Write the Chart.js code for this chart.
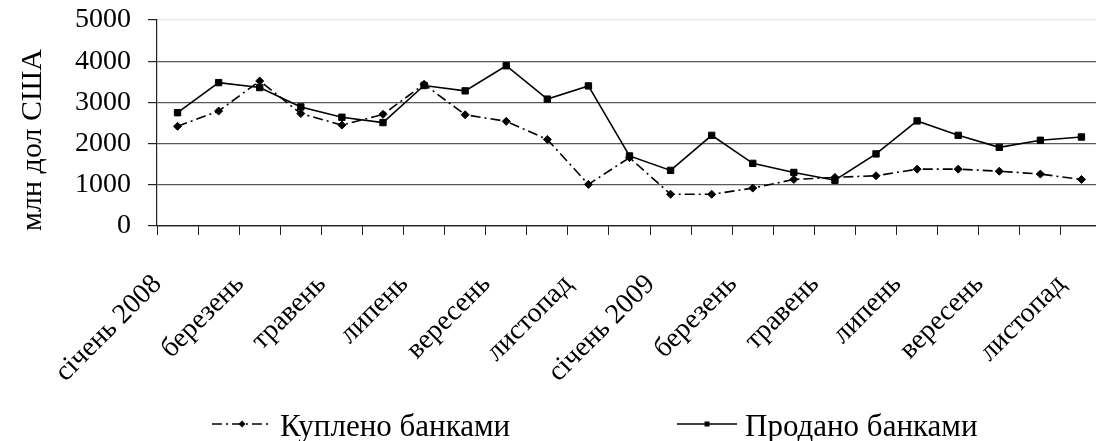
<!DOCTYPE html>
<html lang="uk">
<head>
<meta charset="utf-8">
<title>Купівля та продаж валюти банками</title>
<script src="https://cdn.jsdelivr.net/npm/chart.js@4.4.1/dist/chart.umd.min.js"></script>
<style>
  html, body { margin: 0; padding: 0; background: #fff; overflow: hidden; }
  #wrap { width: 1110px; height: 441px; }
  canvas { display: block; }
</style>
</head>
<body>
<div id="wrap"><canvas id="chart" width="1110" height="441" style="width:1110px;height:441px"></canvas></div>
<script>
// Місяці 2008–2009 рр.
const months = ['січень 2008', 'лютий', 'березень', 'квітень', 'травень', 'червень',
  'липень', 'серпень', 'вересень', 'жовтень', 'листопад', 'грудень',
  'січень 2009', 'лютий', 'березень', 'квітень', 'травень', 'червень',
  'липень', 'серпень', 'вересень', 'жовтень', 'листопад'];

// Куплено банками, млн дол США
const bought = [2420, 2790, 3520, 2730, 2450, 2710, 3440, 2700, 2540, 2100, 1010, 1660,
  770, 770, 920, 1130, 1180, 1220, 1380, 1380, 1330, 1260, 1130];

// Продано банками, млн дол США
const sold = [2750, 3480, 3360, 2890, 2640, 2510, 3410, 3280, 3890, 3080, 3400, 1700,
  1350, 2200, 1520, 1300, 1110, 1750, 2550, 2200, 1910, 2080, 2160];

const yTicks = [0, 1000, 2000, 3000, 4000, 5000];
const seriesNames = ['Куплено банками', 'Продано банками'];
const axisTitle = 'млн дол США';

const SERIF = "'Liberation Serif', 'Times New Roman', serif";

// Підпис осі та легенда під графіком
const decorations = {
  id: 'decorations',
  afterDraw(chart) {
    const ctx = chart.ctx;
    ctx.save();
    ctx.fillStyle = '#000';
    ctx.font = '30px ' + SERIF;
    ctx.textAlign = 'center';
    ctx.textBaseline = 'middle';
    ctx.translate(31, 140);
    ctx.rotate(-Math.PI / 2);
    ctx.fillText(axisTitle, 0, 2);
    ctx.restore();

    const starts = [212, 677];
    const lineY = 424;
    chart.data.datasets.forEach((ds, i) => {
      const x0 = starts[i];
      ctx.save();
      ctx.strokeStyle = ds.borderColor;
      ctx.lineWidth = ds.borderWidth;
      ctx.setLineDash(ds.borderDash || []);
      ctx.beginPath();
      ctx.moveTo(x0, lineY);
      ctx.lineTo(x0 + 60, lineY);
      ctx.stroke();
      ctx.setLineDash([]);
      ctx.fillStyle = '#000';
      const cx = x0 + 30;
      ctx.beginPath();
      if (ds.pointStyle === 'rectRot') {
        ctx.moveTo(cx - 3.5, lineY);
        ctx.lineTo(cx, lineY - 3.5);
        ctx.lineTo(cx + 3.5, lineY);
        ctx.lineTo(cx, lineY + 3.5);
        ctx.closePath();
      } else {
        ctx.rect(cx - 2.5, lineY - 2.5, 5, 5);
      }
      ctx.fill();
      ctx.font = '31px ' + SERIF;
      ctx.textAlign = 'left';
      ctx.textBaseline = 'alphabetic';
      ctx.fillText(ds.label, x0 + 68, 436);
      ctx.restore();
    });
  }
};

new Chart(document.getElementById('chart'), {
  type: 'line',
  data: {
    labels: months,
    datasets: [
      {
        label: seriesNames[0],
        data: bought,
        borderColor: '#000',
        backgroundColor: '#000',
        borderWidth: 1.6,
        borderDash: [10, 4, 2, 4],
        pointStyle: 'rectRot',
        pointRadius: 4,
        pointBorderWidth: 1,
        pointBackgroundColor: '#000',
        pointBorderColor: '#000',
        tension: 0,
        fill: false
      },
      {
        label: seriesNames[1],
        data: sold,
        borderColor: '#000',
        backgroundColor: '#000',
        borderWidth: 1.6,
        pointStyle: 'rect',
        pointRadius: 4.5,
        pointBorderWidth: 1,
        pointBackgroundColor: '#000',
        pointBorderColor: '#000',
        tension: 0,
        fill: false
      }
    ]
  },
  options: {
    responsive: false,
    devicePixelRatio: 1,
    animation: false,
    layout: { padding: { top: 20, right: 8, left: 0, bottom: 0 } },
    plugins: {
      legend: { display: false },
      tooltip: { enabled: false }
    },
    scales: {
      x: {
        type: 'category',
        offset: true,
        afterFit(scale) {
          scale.height = 215;
          scale.paddingLeft = 0;
          scale.paddingRight = 0;
        },
        grid: {
          display: true,
          offset: true,
          drawOnChartArea: false,
          drawTicks: true,
          tickLength: 9,
          tickColor: '#222',
          lineWidth: 1
        },
        border: { display: true, color: '#222', width: 1.2 },
        ticks: {
          autoSkip: false,
          minRotation: 45,
          maxRotation: 45,
          padding: 33,
          labelOffset: -20,
          color: '#000',
          font: { family: SERIF, size: 28 },
          callback: (v, i) => (i % 2 === 0 ? months[i] : '')
        }
      },
      y: {
        min: yTicks[0],
        max: yTicks[yTicks.length - 1],
        afterFit(scale) {
          scale.width = 157;
          scale.paddingTop = 0;
          scale.paddingBottom = 0;
        },
        afterBuildTicks(scale) { scale.ticks = yTicks.map(v => ({ value: v })); },
        grid: {
          drawTicks: true,
          tickLength: 9,
          tickColor: '#222',
          lineWidth: 1.2,
          color: (c) => (c.tick && c.tick.value === 5000 ? '#e6e6e6' : (c.tick && c.tick.value === 0 ? '#222' : '#5a5a5a'))
        },
        border: { display: true, color: '#222', width: 1.2 },
        ticks: {
          padding: 17,
          color: '#000',
          font: { family: SERIF, size: 28 },
          callback: (v) => String(v)
        }
      }
    }
  },
  plugins: [decorations]
});
</script>
</body>
</html>
